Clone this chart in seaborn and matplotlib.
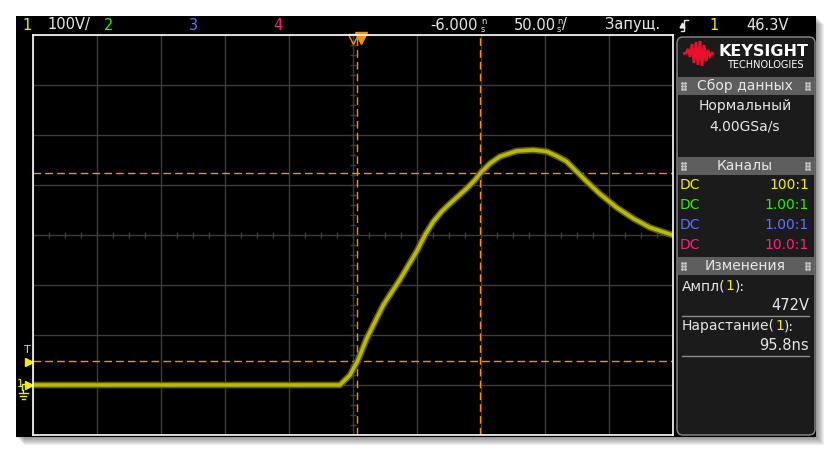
import numpy as np
import matplotlib
matplotlib.use("Agg")
import matplotlib.pyplot as plt
from matplotlib.patches import Rectangle, FancyBboxPatch, Polygon
import seaborn as sns

# ==============================
# DATA
# ==============================
time_ns = [-256, -200, -150, -100, -50, -16.2, -12.3, -8.3, -5.7, -2.6, 4.7,
           17.7, 30.7, 43.7, 50.3, 56.8, 63.3, 69.8, 76.3, 82.8, 89.3, 93.2,
           101.0, 108.8, 121.9, 134.9, 145.3, 153.1, 160.9, 168.7, 176.6,
           187.0, 200.0, 213.0, 226.0, 243.5]
volts_ch1 = [0, 0, 0, 0, 0, 0, 10, 20, 33, 47, 93,
             160, 211, 267, 300, 327, 347, 363, 378, 393, 410, 423,
             443, 457, 468, 470, 467, 458, 447, 427, 407,
             382, 355, 333, 315, 300]

volts_per_div = 100
ns_per_div = 50
delay_ns = -6.0
trigger_ns = 0.0
trigger_level = 46.3
ampl = 472
rise_ns = 95.8
cursor_t1 = -2.6
cursor_t2 = cursor_t1 + rise_ns
level_lo = 0.1 * ampl
level_hi = 0.9 * ampl

channels = ["1", "2", "3", "4"]
ch_colors = ["#f0f000", "#33ee00", "#6070ff", "#ff2080"]
ch_ratio = ["100:1", "1.00:1", "1.00:1", "10.0:1"]

ORANGE = "#ff8c10"
GRID = "#3c3c3c"
WHITE = "#e6e6e6"
FONT = ["DejaVu Sans"]

# ==============================
# FIGURE + BACKGROUND
# ==============================
fig = plt.figure(figsize=(8.33, 4.54), dpi=100)
fig.patch.set_facecolor("white")

bg = fig.add_axes([0, 0, 1, 1], zorder=0)
bg.set_xlim(0, 833)
bg.set_ylim(454, 0)
bg.axis("off")

# drop shadow
for i in range(1, 9):
    bg.add_patch(Rectangle((16 + i, 16 + i), 800, 421, facecolor="black",
                           alpha=0.06, lw=0))
bg.add_patch(Rectangle((16, 16), 800, 421, facecolor="black", lw=0))

# ==============================
# TOP STATUS BAR
# ==============================
ty = 25
def txt(x, y, s, c="#e8e8e8", size=10.5, ha="left", **kw):
    return bg.text(x, y, s, color=c, fontsize=size, ha=ha, va="center",
                   family=FONT, **kw)

txt(22, ty, "1", ch_colors[0])
txt(47, ty, "100V/")
txt(104, ty, "2", ch_colors[1])
txt(189, ty, "3", ch_colors[2])
txt(273, ty, "4", ch_colors[3])
txt(478, ty, "-6.000", ha="right")
txt(481, ty - 4, "n", size=6)
txt(481, ty + 4, "s", size=6)
txt(556, ty, "50.00", ha="right")
txt(557, ty - 4, "n", size=6)
txt(557, ty + 4, "s", size=6)
txt(562, ty, "/")
txt(605, ty, "Запущ.")
bg.plot([681, 684, 684, 688], [31, 31, 20, 20], color="#e8e8e8", lw=1)
bg.plot([682], [25], marker="^", color="#e8e8e8", ms=3.5)
txt(709, ty, "1", ch_colors[0])
txt(789, ty, "46.3V", ha="right")

# ==============================
# LEFT MARKERS
# ==============================
txt(27.5, 350, "T", ch_colors[0], size=8, ha="center")
bg.plot([29.5], [362], marker=">", color=ch_colors[0], ms=6)
txt(16.5, 384, "1", ch_colors[0], size=8)
bg.plot([22, 22, 26], [390, 384, 384], color=ch_colors[0], lw=1)
bg.plot([29.5], [385], marker=">", color=ch_colors[0], ms=6)
bg.plot([23.5, 23.5], [390, 393], color=ch_colors[0], lw=1)
for yy, hw in [(393, 4.5), (396, 3), (398.5, 1.5)]:
    bg.plot([23.5 - hw, 23.5 + hw], [yy, yy], color=ch_colors[0], lw=1)

# ==============================
# WAVEFORM AXES
# ==============================
ax = fig.add_axes([33 / 833, (454 - 435) / 454, 640 / 833, 400 / 454], zorder=1)
ax.set_facecolor("black")
x0 = delay_ns - 5 * ns_per_div
ax.set_xlim(x0, x0 + 10 * ns_per_div)
ax.set_ylim(-volts_per_div, 7 * volts_per_div)
ax.set_xticks([x0 + k * ns_per_div for k in range(11)])
ax.set_yticks([-100 + k * volts_per_div for k in range(9)])
ax.grid(True, color=GRID, lw=1)
ax.tick_params(length=0, labelbottom=False, labelleft=False)
for sp in ax.spines.values():
    sp.set_color("white")
    sp.set_linewidth(1.2)

# minor ticks on the centre lines
cy = 3 * volts_per_div
ax.vlines(np.arange(x0, x0 + 10 * ns_per_div, ns_per_div / 4), cy - 6, cy + 6,
          color=GRID, lw=1)
ax.hlines(np.arange(-100, 700, volts_per_div / 5), delay_ns - 2.3, delay_ns + 2.3,
          color=GRID, lw=1)

# cursors
dash = dict(color=ORANGE, lw=1, dashes=(5.5, 3))
ax.axhline(level_lo, **dash)
ax.axhline(level_hi, **dash)
ax.axvline(cursor_t1, **dash)
ax.axvline(cursor_t2, **dash)

# trace
sns.lineplot(x=time_ns, y=volts_ch1, ax=ax, color="#5c5c00", linewidth=4.8,
             legend=False, solid_capstyle="round", solid_joinstyle="round")
sns.lineplot(x=time_ns, y=volts_ch1, ax=ax, color="#b8b80e", linewidth=2.6,
             legend=False, solid_capstyle="round", solid_joinstyle="round")
ax.set_xlabel("")
ax.set_ylabel("")

# delay / trigger markers at the top edge
ax.plot([delay_ns], [693], marker="v", ms=7, mfc="none", mec=ORANGE, mew=1,
        clip_on=False)
ax.plot([trigger_ns], [694], marker="v", ms=8, color=ORANGE, clip_on=False)

# ==============================
# RIGHT PANEL
# ==============================
bg.add_patch(FancyBboxPatch((677, 37), 138, 398,
                            boxstyle="round,pad=0,rounding_size=6",
                            facecolor="#1b1b1b", edgecolor="#8c8c8c", lw=1))

# logo
logo = [(683, 54), (686, 53), (688, 49), (690, 57), (692, 44), (694, 63),
        (696, 42), (698, 65), (700, 41), (702, 66), (704, 45), (706, 61),
        (708, 50), (710, 56), (712, 53), (714, 54)]
bg.add_patch(Polygon(logo, closed=False, fill=False, edgecolor="#e8102a",
                     lw=2.0, joinstyle="miter"))
txt(764, 51, "KEYSIGHT", "white", size=11.5, ha="center", weight="bold")
txt(765, 65, "TECHNOLOGIES", "white", size=7, ha="center")

def header(y, label):
    bg.add_patch(Rectangle((678, y), 136, 18, facecolor="#5e5e5e", lw=0))
    txt(745, y + 9, label, WHITE, size=10, ha="center")
    for xd in (682, 806):
        for dx in (0, 3):
            for dy in (6, 9, 12):
                bg.plot([xd + dx], [y + dy], marker="s", ms=0.9,
                        color="#c8c8c8")

def label_ch(x, y, before, after):
    t1 = txt(x, y, before, WHITE, size=10)
    t2 = bg.annotate("1", xy=(1, 0.5), xycoords=t1, va="center", ha="left",
                     color=ch_colors[0], fontsize=10, family=FONT)
    bg.annotate(after, xy=(1, 0.5), xycoords=t2, va="center", ha="left",
                color=WHITE, fontsize=10, family=FONT)

header(77, "Сбор данных")
txt(745, 106, "Нормальный", WHITE, size=10, ha="center")
txt(745, 126, "4.00GSa/s", WHITE, size=10, ha="center")

header(157, "Каналы")
for i in range(4):
    yy = 185 + i * 20
    txt(680, yy, "DC", ch_colors[i], size=10)
    txt(809, yy, ch_ratio[i], ch_colors[i], size=10, ha="right")

header(257, "Изменения")
label_ch(682, 286, "Ампл(", "):")
txt(809, 306, f"{ampl}V", WHITE, size=10.5, ha="right")
bg.plot([682, 809], [316, 316], color="#8c8c8c", lw=1)
label_ch(682, 326, "Нарастание(", "):")
txt(809, 346, f"{rise_ns}ns", WHITE, size=10.5, ha="right")
bg.plot([682, 809], [356, 356], color="#8c8c8c", lw=1)

plt.savefig("out.png", dpi=100, facecolor="white")
plt.close()
